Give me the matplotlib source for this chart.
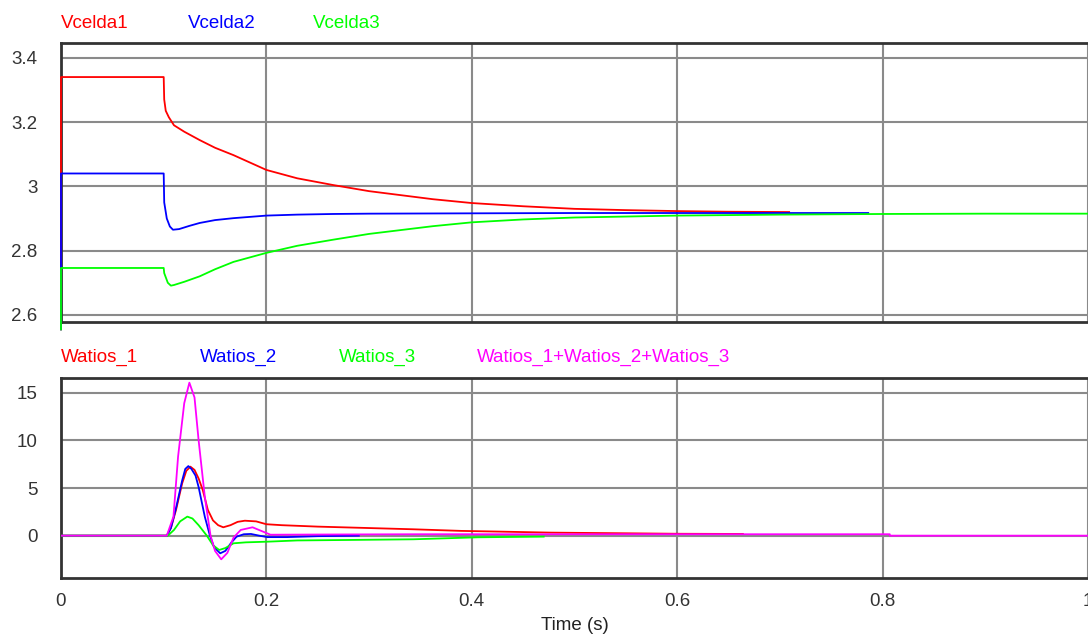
import matplotlib
matplotlib.use('Agg')
import matplotlib.pyplot as plt

plt.rcParams['font.family'] = ['Liberation Sans', 'DejaVu Sans']

# 电池电压数据 (上图)
t_v1 = [0, 0, 0.1, 0.1005, 0.102, 0.105, 0.11, 0.12, 0.135, 0.15, 0.168, 0.2,
        0.23, 0.265, 0.3, 0.362, 0.4, 0.45, 0.5, 0.55, 0.6, 0.65, 0.709]
vcelda1 = [2.555, 3.34, 3.34, 3.27, 3.235, 3.215, 3.19, 3.17, 3.144, 3.12, 3.097, 3.051,
           3.025, 3.004, 2.985, 2.96, 2.948, 2.938, 2.93, 2.926, 2.923, 2.921, 2.92]

t_v2 = [0, 0, 0.1, 0.1005, 0.103, 0.106, 0.109, 0.115, 0.125, 0.135, 0.15, 0.168,
        0.2, 0.23, 0.265, 0.3, 0.4, 0.5, 0.6, 0.7, 0.786]
vcelda2 = [2.555, 3.04, 3.04, 2.95, 2.9, 2.875, 2.865, 2.867, 2.877, 2.886, 2.895, 2.901,
           2.909, 2.912, 2.914, 2.915, 2.916, 2.917, 2.917, 2.917, 2.917]

t_v3 = [0, 0, 0.1, 0.1005, 0.104, 0.107, 0.11, 0.12, 0.135, 0.15, 0.168, 0.2, 0.23,
        0.265, 0.3, 0.362, 0.4, 0.45, 0.5, 0.6, 0.7, 0.8, 0.9, 1.0]
vcelda3 = [2.555, 2.746, 2.746, 2.73, 2.7, 2.691, 2.693, 2.703, 2.72, 2.742, 2.765, 2.793, 2.815,
           2.834, 2.852, 2.876, 2.888, 2.897, 2.903, 2.909, 2.912, 2.914, 2.915, 2.915]

# 功率数据 (下图)
t_w1 = [0, 0.103, 0.107, 0.112, 0.118, 0.122, 0.126, 0.13, 0.134, 0.138, 0.143, 0.148,
        0.153, 0.158, 0.165, 0.172, 0.179, 0.19, 0.2, 0.215, 0.25, 0.3, 0.343, 0.39,
        0.43, 0.477, 0.55, 0.6, 0.664]
watios1 = [0, 0, 0.8, 2.7, 5.5, 6.8, 7.24, 6.9, 6.0, 4.8, 2.7, 1.6,
           1.1, 0.88, 1.1, 1.45, 1.57, 1.5, 1.2, 1.1, 0.95, 0.8, 0.67, 0.5,
           0.42, 0.32, 0.25, 0.2, 0.18]

t_w2 = [0, 0.103, 0.107, 0.112, 0.118, 0.121, 0.124, 0.127, 0.131, 0.134, 0.14, 0.145,
        0.149, 0.155, 0.16, 0.166, 0.171, 0.178, 0.185, 0.193, 0.201, 0.22, 0.25, 0.29]
watios2 = [0, 0, 0.8, 2.9, 5.8, 7.0, 7.3, 7.0, 6.3, 5.1, 2.0, 0,
           -1.2, -1.85, -1.6, -0.7, -0.1, 0.15, 0.18, 0.0, -0.15, -0.15, -0.05, 0]

t_w3 = [0, 0.104, 0.11, 0.116, 0.123, 0.128, 0.134, 0.142, 0.148, 0.154, 0.16, 0.168,
        0.18, 0.201, 0.23, 0.28, 0.343, 0.406, 0.47]
watios3 = [0, 0, 0.6, 1.5, 2.0, 1.8, 1.1, 0, -1.0, -1.5, -1.3, -0.8,
           -0.7, -0.63, -0.5, -0.45, -0.38, -0.17, -0.1]

t_ws = [0, 0.103, 0.1095, 0.114, 0.12, 0.125, 0.13, 0.134, 0.14, 0.1456, 0.15, 0.156,
        0.162, 0.168, 0.175, 0.1865, 0.195, 0.204, 0.25, 0.35, 0.5, 0.807, 0.807, 1.0]
watios_sum = [0, 0, 2.0, 8.3, 13.9, 16.05, 14.5, 10.0, 4.1, 0, -1.6, -2.48,
              -1.8, -0.2, 0.6, 0.88, 0.5, 0.1, 0.12, 0.15, 0.15, 0.15, 0, 0]

W, H = 1088, 636
fig = plt.figure(figsize=(W / 100, H / 100), dpi=100)
ax1 = fig.add_axes([61 / W, 1 - 322.3 / H, 1 - 61 / W, (322.3 - 43.3) / H])
ax2 = fig.add_axes([61 / W, 1 - 578 / H, 1 - 61 / W, (578 - 378) / H])

lw = 1.3
ax1.plot(t_v1, vcelda1, color='#ff0000', lw=lw, clip_on=False, zorder=3)
ax1.plot(t_v2, vcelda2, color='#0000ff', lw=lw, clip_on=False, zorder=3)
ax1.plot(t_v3, vcelda3, color='#00ff00', lw=lw, clip_on=False, zorder=3)
ax1.set_ylim(2.577, 3.445)
ax1.set_yticks([2.6, 2.8, 3.0, 3.2, 3.4])
ax1.set_yticklabels(['2.6', '2.8', '3', '3.2', '3.4'])

ax2.plot(t_w1, watios1, color='#ff0000', lw=lw, zorder=3)
ax2.plot(t_w2, watios2, color='#0000ff', lw=lw, zorder=3)
ax2.plot(t_w3, watios3, color='#00ff00', lw=lw, zorder=3)
ax2.plot(t_ws, watios_sum, color='#ff00ff', lw=lw, zorder=3)
ax2.set_ylim(-4.44, 16.54)
ax2.set_yticks([0, 5, 10, 15])
ax2.set_xticks([0, 0.2, 0.4, 0.6, 0.8, 1.0])
ax2.set_xticklabels(['0', '0.2', '0.4', '0.6', '0.8', '1'])

for ax in (ax1, ax2):
    ax.set_xlim(0, 1)
    ax.grid(True, color='#8a8a8a', lw=1.5)
    ax.set_axisbelow(True)
    ax.tick_params(length=0, labelsize=13.5, labelcolor='#333333', pad=17)
    ax.spines['right'].set_visible(False)
    for s in ('top', 'left', 'bottom'):
        ax.spines[s].set_color('#333333')
        ax.spines[s].set_linewidth(2)

ax1.set_xticks([0, 0.2, 0.4, 0.6, 0.8, 1.0])
ax1.tick_params(axis='x', labelbottom=False)
ax2.tick_params(axis='x', pad=11)

# 图例文字
fs = 13.5
for x, txt, c in [(61, 'Vcelda1', '#ff0000'), (188, 'Vcelda2', '#0000ff'),
                  (313, 'Vcelda3', '#00ff00')]:
    fig.text(x / W, 1 - 28.3 / H, txt, color=c, fontsize=fs, va='baseline')
for x, txt, c in [(61, 'Watios_1', '#ff0000'), (200, 'Watios_2', '#0000ff'),
                  (338.7, 'Watios_3', '#00ff00'),
                  (476.5, 'Watios_1+Watios_2+Watios_3', '#ff00ff')]:
    fig.text(x / W, 1 - 362.3 / H, txt, color=c, fontsize=fs, va='baseline')

fig.text(575 / W, 1 - 625 / H, 'Time (s)', fontsize=fs, ha='center', va='center',
         color='#222222')

plt.savefig('out.png', dpi=100, facecolor='white')
